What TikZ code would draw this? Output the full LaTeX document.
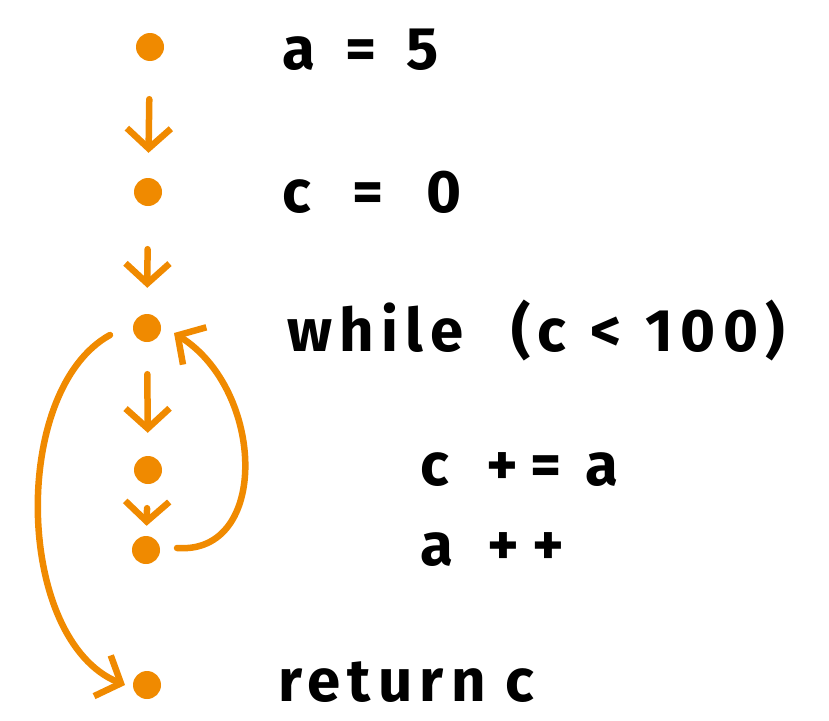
\documentclass[tikz,border=0pt]{standalone}
\usepackage{fontspec}
\setmainfont{Fira Sans}
\usetikzlibrary{arrows.meta}
\definecolor{org}{HTML}{F08A00}
\tikzset{
  dot/.style={circle,fill=org,inner sep=0pt,minimum size=28pt},
  arr/.style={draw=org,line width=6.5pt,line cap=round,line join=round,
    -{Straight Barb[length=20pt,width=44pt,line width=6.5pt]}},
  code/.style={anchor=west,inner sep=0pt,font=\fontsize{60}{62}\selectfont\bfseries\addfontfeature{LetterSpace=12}}
}
\begin{document}
\begin{tikzpicture}[x=1pt,y=-1pt]
\useasboundingbox (0,0) rectangle (829,720);
\node[dot] (d1) at (150,47) {};
\node[dot] (d2) at (148,192) {};
\node[dot] (d3) at (147,328) {};
\node[dot] (d4) at (148,470) {};
\node[dot] (d5) at (146,550) {};
\node[dot] (d6) at (147,685) {};
\node[code] (t1) at (282,50) {a\hspace{30pt}=\hspace{30pt}5};
\node[code] (t2) at (282,192) {c\hspace{42pt}=\hspace{42pt}0};
\node[code] (t3) at (287,330) {while\hspace{48pt}(c\hspace{24pt}<\hspace{24pt}100)};
\node[code] (t4) at (420,470) {c\hspace{38pt}+\hspace{12pt}=\hspace{24pt}a};
\node[code] (t5) at (420,550) {a\hspace{34pt}+\hspace{14pt}+};
\node[code] (t6) at (278,682) {return\hspace{20pt}c};
\draw[arr,shorten <=38pt,shorten >=25pt] (d1) -- (d2);
\draw[arr,shorten <=43pt,shorten >=26pt] (d2) -- (d3);
\draw[arr,shorten <=32pt,shorten >=23pt] (d3) -- (d4);
\draw[arr,shorten <=24pt,shorten >=10pt] (d4) -- (d5);
\coordinate (l1) at (177,548);
\coordinate (l2) at (174,333);
\draw[arr] (l1) .. controls (270,555) and (265,390) .. (l2);
\coordinate (r1) at (110,335);
\coordinate (r2) at (125,685);
\draw[arr] (r1) .. controls (10,390) and (15,640) .. (r2);
\end{tikzpicture}
\end{document}
